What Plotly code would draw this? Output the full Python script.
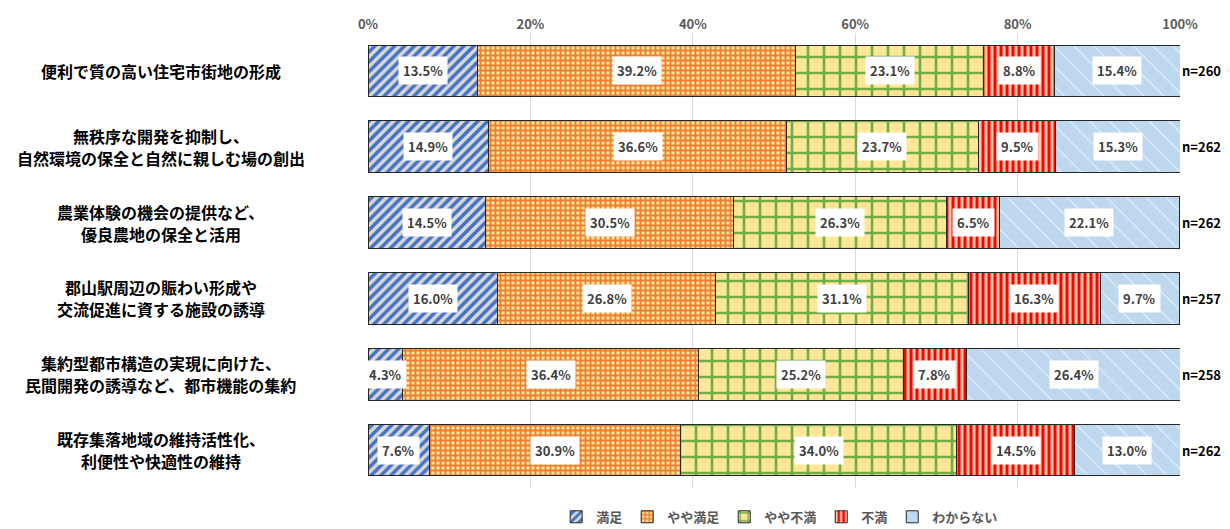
import plotly.graph_objects as go

# Survey items (rows, top to bottom); each item is one or two lines
categories = [
    ["便利で質の高い住宅市街地の形成"],
    ["無秩序な開発を抑制し、", "自然環境の保全と自然に親しむ場の創出"],
    ["農業体験の機会の提供など、", "優良農地の保全と活用"],
    ["郡山駅周辺の賑わい形成や", "交流促進に資する施設の誘導"],
    ["集約型都市構造の実現に向けた、", "民間開発の誘導など、都市機能の集約"],
    ["既存集落地域の維持活性化、", "利便性や快適性の維持"],
]
sample_sizes = [260, 262, 262, 257, 258, 262]

# Response shares (%) per item
manzoku = [13.5, 14.9, 14.5, 16.0, 4.3, 7.6]
yaya_manzoku = [39.2, 36.6, 30.5, 26.8, 36.4, 30.9]
yaya_fuman = [23.1, 23.7, 26.3, 31.1, 25.2, 34.0]
fuman = [8.8, 9.5, 6.5, 16.3, 7.8, 14.5]
wakaranai = [15.4, 15.3, 22.1, 9.7, 26.4, 13.0]

series_names = ["満足", "やや満足", "やや不満", "不満", "わからない"]
series_values = [manzoku, yaya_manzoku, yaya_fuman, fuman, wakaranai]
patterns = [
    dict(shape="/", fgcolor="#4472C4", bgcolor="#D9D9D9", size=7, solidity=0.5, fgopacity=1),
    dict(shape="+", fgcolor="#ED7D31", bgcolor="#FFE699", size=5, solidity=0.6, fgopacity=1),
    dict(shape="+", fgcolor="#70AD47", bgcolor="#FFE699", size=16, solidity=0.3, fgopacity=1),
    dict(shape="|", fgcolor="#FF0000", bgcolor="#F8CBAD", size=6, solidity=0.5, fgopacity=1),
    dict(shape="\\", fgcolor="#FFFFFF", bgcolor="#BDD7EE", size=14, solidity=0.08, fgopacity=0.7),
]

JP_FONT = "Noto Sans CJK JP"
rows = list(range(len(categories)))
LINE_GAP = 22  # px between the two lines of an item label

fig = go.Figure()
for name, vals, pat in zip(series_names, series_values, patterns):
    fig.add_trace(go.Bar(
        name=name,
        x=[v / 100 for v in vals],
        y=rows,
        orientation="h",
        width=0.68,
        marker=dict(color=pat["bgcolor"], pattern=pat,
                    line=dict(color="#262626", width=1)),
        hoverinfo="skip",
    ))

annotations = []
for r in rows:
    # Value labels in white boxes, centred on each segment
    left = 0.0
    for vals in series_values:
        v = vals[r] / 100
        annotations.append(dict(
            x=left + v / 2, y=r, xref="x", yref="y",
            text=f"{vals[r]:.1f}%", showarrow=False,
            font=dict(family=JP_FONT, size=13, color="#404040", weight="bold"),
            bgcolor="#FFFFFF", borderpad=4,
        ))
        left += v
    # Sample size at the right end
    annotations.append(dict(
        x=1.0, y=r, xref="paper", yref="y", xanchor="left",
        text=f"n={sample_sizes[r]}", showarrow=False,
        font=dict(family=JP_FONT, size=13, color="#000000", weight="bold"),
    ))
    # Item labels on the left, one annotation per line
    lines = categories[r]
    for i, line in enumerate(lines):
        shift = (len(lines) - 1) / 2 * LINE_GAP - i * LINE_GAP
        annotations.append(dict(
            x=-0.255, y=r, xref="paper", yref="y", xanchor="center",
            yshift=shift, text=line, showarrow=False,
            font=dict(family=JP_FONT, size=16, color="#000000", weight="bold"),
        ))

fig.update_layout(
    barmode="stack",
    width=1230, height=529,
    margin=dict(l=368, r=50, t=33, b=41, autoexpand=False),
    paper_bgcolor="#FFFFFF", plot_bgcolor="#FFFFFF",
    font=dict(family=JP_FONT),
    xaxis=dict(
        side="top", range=[0, 1], tickformat=".0%", dtick=0.2,
        showgrid=True, gridcolor="#D9D9D9", gridwidth=1,
        zeroline=False, showline=False, ticks="",
        tickfont=dict(family=JP_FONT, size=13, color="#595959", weight="bold"),
        fixedrange=True,
    ),
    yaxis=dict(
        range=[5.5, -0.5], showticklabels=False, showgrid=False,
        zeroline=False, showline=False, ticks="", fixedrange=True,
    ),
    legend=dict(
        orientation="h", x=0.507, xanchor="center",
        yref="container", y=0.023, yanchor="middle",
        font=dict(family=JP_FONT, size=13, color="#595959", weight="bold"),
        itemwidth=30, traceorder="normal",
    ),
    annotations=annotations,
)

fig.write_html("out.html")
